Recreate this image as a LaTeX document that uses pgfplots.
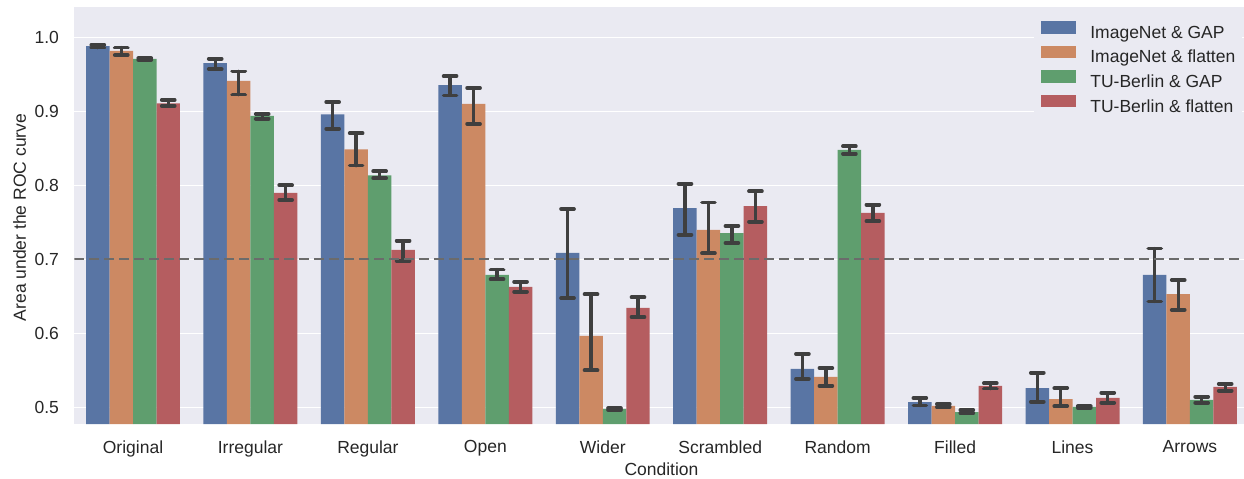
\documentclass[border=0pt]{standalone}
\usepackage{pgfplots}
\pgfplotsset{compat=1.18}
\usepackage{pgfplotstable}
\usepackage{fontspec}
\setmainfont{Liberation Sans}

\definecolor{bg}{HTML}{EAEAF2}
\definecolor{txt}{HTML}{262626}
\definecolor{cblue}{HTML}{5975A4}
\definecolor{corange}{HTML}{CC8963}
\definecolor{cgreen}{HTML}{5F9E6E}
\definecolor{cred}{HTML}{B55D60}
\definecolor{errc}{HTML}{3F3F3F}
\definecolor{refline}{HTML}{6B6B6B}

% x = condition index, y = mean AUC, ep/em = upper/lower error
\pgfplotstableread{
x y ep em
0 0.9880 0.0020 0.0020
1 0.9650 0.0060 0.0080
2 0.8960 0.0166 0.0195
3 0.9355 0.0120 0.0140
4 0.7085 0.0595 0.0610
5 0.7690 0.0330 0.0360
6 0.5520 0.0200 0.0136
7 0.5070 0.0054 0.0045
8 0.5260 0.0207 0.0185
9 0.6790 0.0355 0.0360
}\tblue
\pgfplotstableread{
x y ep em
0 0.9815 0.0045 0.0055
1 0.9410 0.0130 0.0185
2 0.8486 0.0217 0.0220
3 0.9100 0.0216 0.0270
4 0.5964 0.0563 0.0464
5 0.7396 0.0370 0.0315
6 0.5410 0.0120 0.0120
7 0.5020 0.0025 0.0020
8 0.5110 0.0150 0.0094
9 0.6530 0.0190 0.0215
}\torange
\pgfplotstableread{
x y ep em
0 0.9707 0.0010 0.0010
1 0.8937 0.0027 0.0037
2 0.8135 0.0054 0.0040
3 0.6788 0.0072 0.0058
4 0.4977 0.0010 0.0010
5 0.7355 0.0095 0.0135
6 0.8477 0.0050 0.0050
7 0.4936 0.0028 0.0017
8 0.5004 0.0010 0.0010
9 0.5099 0.0044 0.0037
}\tgreen
\pgfplotstableread{
x y ep em
0 0.9108 0.0045 0.0036
1 0.7896 0.0104 0.0095
2 0.7126 0.0125 0.0149
3 0.6626 0.0071 0.0064
4 0.6342 0.0144 0.0122
5 0.7720 0.0200 0.0212
6 0.7626 0.0112 0.0112
7 0.5288 0.0036 0.0036
8 0.5126 0.0071 0.0064
9 0.5275 0.0040 0.0051
}\tred

\pgfplotsset{
    errplot/.style={forget plot, draw=none, mark=none, line width=2pt,
        error bars/.cd, y dir=both, y explicit,
        error bar style={draw=errc, line width=2pt, line cap=round},
        error mark options={draw=errc, line width=2.2pt, line cap=round, mark size=3.9pt, rotate=90}},
}

\begin{document}
\begin{tikzpicture}[font=\fontsize{10.5}{12.6}\selectfont]
\begin{axis}[
    scale only axis, width=701.8pt, height=250pt,
    xmin=-0.5, xmax=9.46, ymin=0.4774, ymax=1.0405,
    axis background/.style={fill=bg},
    axis line style={draw=none},
    major tick length=0pt,
    ymajorgrids, grid style={white, line width=0.9pt},
    xtick={0,...,9},
    xticklabels={Original,Irregular,Regular,Open,Wider,Scrambled,Random,Filled,Lines,Arrows},
    ytick={0.5,0.6,0.7,0.8,0.9,1.0},
    tick label style={text=txt},
    yticklabel style={/pgf/number format/.cd, fixed, fixed zerofill, precision=1,
        assume math mode=true, /tikz/.cd, xshift=-5.7pt},
    xticklabel style={yshift=-6.5pt},
    xlabel=Condition, ylabel=Area under the ROC curve,
    label style={text=txt},
    xlabel style={at={(axis description cs:0.502,-0.108)}, anchor=center},
    ylabel style={at={(axis description cs:-0.0468,0.4956)}, anchor=center},
    legend style={at={(axis description cs:0.8205,0.984)}, anchor=north west,
        fill=bg, draw=none, inner sep=4pt, row sep=1.9pt, text=txt,
        nodes={inner sep=0pt, text height=8pt, text depth=2.5pt},
        /tikz/every odd column/.append style={column sep=8.6pt}},
    legend cell align=left,
    legend image code/.code={\fill[#1] (0pt,0pt) rectangle (21pt,7.6pt);},
]
\addplot[ybar, bar width=0.2, bar shift=0, fill=cblue, draw=none]
    table[x expr=\thisrow{x}-0.3, y=y] {\tblue};
\addplot[ybar, bar width=0.2, bar shift=0, fill=corange, draw=none]
    table[x expr=\thisrow{x}-0.1, y=y] {\torange};
\addplot[ybar, bar width=0.2, bar shift=0, fill=cgreen, draw=none]
    table[x expr=\thisrow{x}+0.1, y=y] {\tgreen};
\addplot[ybar, bar width=0.2, bar shift=0, fill=cred, draw=none]
    table[x expr=\thisrow{x}+0.3, y=y] {\tred};
\addplot[errplot] table[x expr=\thisrow{x}-0.3, y=y, y error plus=ep, y error minus=em] {\tblue};
\addplot[errplot] table[x expr=\thisrow{x}-0.1, y=y, y error plus=ep, y error minus=em] {\torange};
\addplot[errplot] table[x expr=\thisrow{x}+0.1, y=y, y error plus=ep, y error minus=em] {\tgreen};
\addplot[errplot] table[x expr=\thisrow{x}+0.3, y=y, y error plus=ep, y error minus=em] {\tred};
\addplot[forget plot, sharp plot, refline, line width=1.2pt, dash pattern=on 6pt off 3pt]
    coordinates {(-0.5,0.7) (9.5,0.7)};
\legend{ImageNet \& GAP, ImageNet \& flatten, TU-Berlin \& GAP, TU-Berlin \& flatten}
\end{axis}
\pgfresetboundingbox
\path[use as bounding box] ([xshift=-44.58pt,yshift=-32.4pt]current axis.south west) rectangle ++(746.4pt,286.8pt);
\end{tikzpicture}
\end{document}
